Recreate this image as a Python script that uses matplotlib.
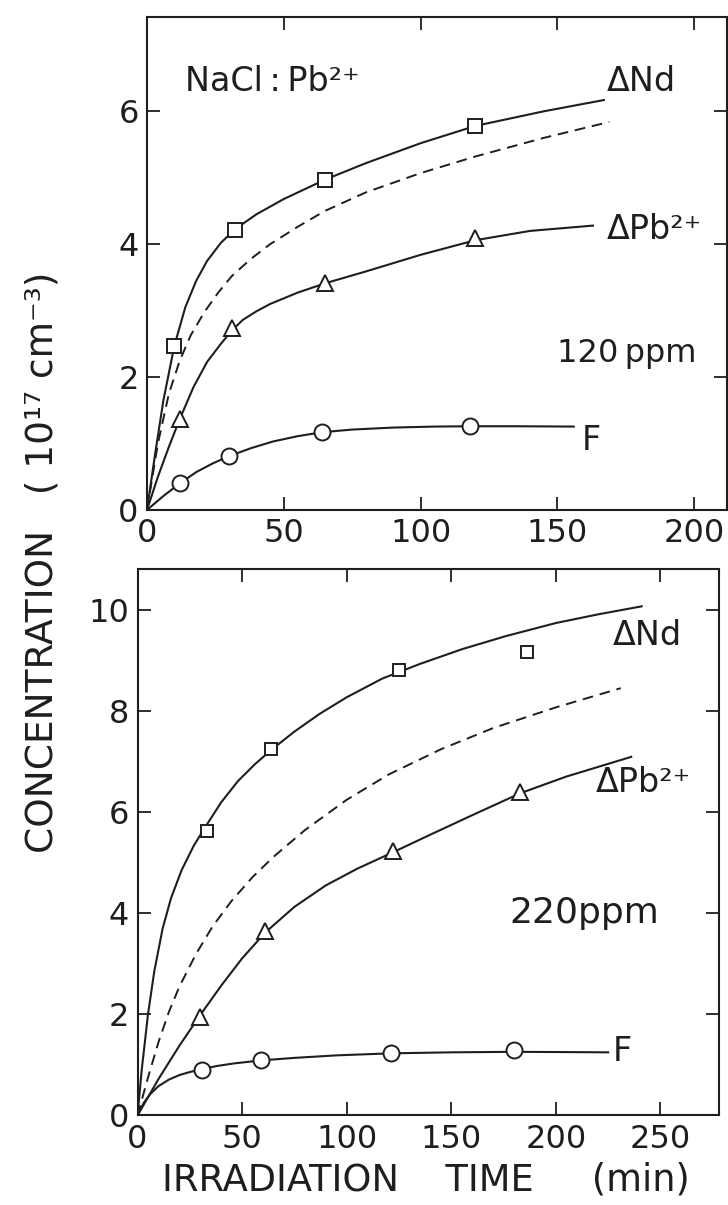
import matplotlib.pyplot as plt

plt.rcParams['font.family'] = ['DejaVu Sans']
plt.rcParams['mathtext.default'] = 'regular'

INK = '#1e1e1e'

# ---- 120 ppm sample ----
# measured points
t_nd_a = [10, 32, 65, 120]
nd_a = [2.47, 4.22, 4.97, 5.78]
t_pb_a = [12, 31, 65, 120]
pb_a = [1.37, 2.74, 3.41, 4.09]
t_f_a = [12, 30, 64, 118]
f_a = [0.40, 0.81, 1.18, 1.26]

# hand-drawn curves
ct_nd_a = [0, 3, 6, 10, 14, 18, 22, 27, 32, 40, 50, 65, 80, 100, 120, 145, 167]
cv_nd_a = [0, 0.85, 1.65, 2.47, 3.05, 3.45, 3.75, 4.02, 4.22, 4.45, 4.68, 4.97, 5.22,
           5.52, 5.78, 6.00, 6.17]
ct_dash_a = [0, 4, 8, 12, 16, 21, 26, 31, 38, 45, 55, 65, 80, 100, 120, 145, 169]
cv_dash_a = [0, 1.00, 1.75, 2.25, 2.63, 2.98, 3.27, 3.52, 3.78, 4.00, 4.26, 4.50, 4.78,
             5.07, 5.32, 5.60, 5.84]
ct_pb_a = [0, 4, 8, 12, 17, 22, 27, 31, 35, 40, 45, 55, 65, 80, 100, 120, 140, 163]
cv_pb_a = [0, 0.50, 0.95, 1.37, 1.85, 2.23, 2.50, 2.70, 2.86, 2.99, 3.10, 3.27, 3.41,
           3.59, 3.84, 4.06, 4.20, 4.28]
ct_f_a = [0, 6, 12, 18, 24, 30, 38, 46, 55, 64, 75, 90, 105, 118, 135, 156]
cv_f_a = [0, 0.21, 0.40, 0.57, 0.70, 0.81, 0.93, 1.03, 1.11, 1.17, 1.21, 1.24, 1.255,
          1.26, 1.26, 1.255]

# ---- 220 ppm sample ----
t_nd_b = [33, 64, 125, 186]
nd_b = [5.64, 7.26, 8.81, 9.17]
t_pb_b = [30, 61, 122, 183]
pb_b = [1.95, 3.65, 5.23, 6.41]
t_f_b = [31, 59, 121, 180]
f_b = [0.91, 1.10, 1.24, 1.30]

ct_nd_b = [0, 2, 5, 8, 12, 16, 21, 27, 33, 40, 48, 56, 64, 75, 87, 100, 117, 135, 155,
           176, 200, 220, 241]
cv_nd_b = [0, 0.90, 2.00, 2.85, 3.70, 4.30, 4.85, 5.35, 5.75, 6.20, 6.62, 6.95, 7.24,
           7.60, 7.95, 8.28, 8.65, 8.94, 9.23, 9.49, 9.75, 9.92, 10.08]
ct_dash_b = [0, 5, 10, 15, 20, 28, 36, 45, 55, 65, 80, 100, 120, 145, 170, 200, 231]
cv_dash_b = [0, 0.75, 1.45, 2.05, 2.55, 3.20, 3.75, 4.25, 4.72, 5.12, 5.65, 6.25, 6.75,
             7.25, 7.67, 8.08, 8.46]
ct_pb_b = [0, 5, 10, 15, 20, 25, 30, 40, 50, 61, 75, 90, 105, 122, 140, 160, 183, 205, 236]
cv_pb_b = [0, 0.36, 0.72, 1.05, 1.38, 1.685, 1.99, 2.57, 3.11, 3.62, 4.13, 4.555, 4.885,
           5.208, 5.56, 5.945, 6.38, 6.71, 7.10]
ct_f_b = [0, 3, 6, 10, 15, 20, 25, 31, 38, 46, 59, 75, 95, 121, 150, 180, 205, 225]
cv_f_b = [0, 0.25, 0.42, 0.58, 0.71, 0.80, 0.86, 0.92, 0.98, 1.03, 1.09, 1.14, 1.19,
          1.23, 1.25, 1.26, 1.255, 1.25]

x_ticks_a = [0, 50, 100, 150, 200]
y_ticks_a = [0, 2, 4, 6]
x_ticks_b = [0, 50, 100, 150, 200, 250]
y_ticks_b = [0, 2, 4, 6, 8, 10]


def style_axes(ax, xt, yt):
    ax.set_xticks(xt)
    ax.set_yticks(yt)
    ax.tick_params(direction='in', length=9.5, width=1.3, top=True, right=True,
                   labelsize=23, pad=6, colors=INK)
    for s in ax.spines.values():
        s.set_linewidth(1.5)
        s.set_color(INK)


def draw_panel(ax, pts, curves, dashed):
    for (ct, cv) in curves:
        ax.plot(ct, cv, color=INK, lw=1.5, solid_joinstyle='round', zorder=2)
    ax.plot(dashed[0], dashed[1], color=INK, lw=1.4, dashes=(5.5, 3.5), zorder=2)
    for (t, v, m, ms) in pts:
        ax.plot(t, v, ls='none', marker=m, ms=ms, mfc='white', mec=INK, mew=1.4, zorder=3)


fig = plt.figure(figsize=(7.28, 12.05), dpi=100)

ax1 = fig.add_axes([0.2019, 0.5768, 0.7967, 0.4091])
draw_panel(ax1,
           [(t_nd_a, nd_a, 's', 9.5), (t_pb_a, pb_a, '^', 12), (t_f_a, f_a, 'o', 11.5)],
           [(ct_nd_a, cv_nd_a), (ct_pb_a, cv_pb_a), (ct_f_a, cv_f_a)],
           (ct_dash_a, cv_dash_a))
ax1.set_xlim(0, 212)
ax1.set_ylim(0, 7.42)
style_axes(ax1, x_ticks_a, y_ticks_a)
ax1.text(14, 6.45, 'NaCl\u2009:\u2009Pb²⁺', fontsize=24, va='center', color=INK)
ax1.text(168, 6.45, 'ΔNd', fontsize=24, va='center', color=INK)
ax1.text(168, 4.22, 'ΔPb²⁺', fontsize=24, va='center', color=INK)
ax1.text(150, 2.35, '120\u2009ppm', fontsize=23, va='center', color=INK)
ax1.text(159, 1.05, 'F', fontsize=24, va='center', color=INK)

ax2 = fig.add_axes([0.1889, 0.0743, 0.7988, 0.4531])
draw_panel(ax2,
           [(t_nd_b, nd_b, 's', 8.5), (t_pb_b, pb_b, '^', 12), (t_f_b, f_b, 'o', 11.5)],
           [(ct_nd_b, cv_nd_b), (ct_pb_b, cv_pb_b), (ct_f_b, cv_f_b)],
           (ct_dash_b, cv_dash_b))
ax2.set_xlim(0, 278)
ax2.set_ylim(0, 10.81)
style_axes(ax2, x_ticks_b, y_ticks_b)
ax2.text(227, 9.5, 'ΔNd', fontsize=24, va='center', color=INK)
ax2.text(219, 6.6, 'ΔPb²⁺', fontsize=24, va='center', color=INK)
ax2.text(178, 4.0, '220ppm', fontsize=26, va='center', color=INK)
ax2.text(227, 1.26, 'F', fontsize=24, va='center', color=INK)

fig.text(0.058, 0.5336, 'CONCENTRATION   ( 10¹⁷ cm⁻³)', rotation=90,
         fontsize=27, ha='center', va='center', color=INK)
fig.text(0.585, 0.021, 'IRRADIATION    TIME     (min)', fontsize=26.5,
         ha='center', va='center', color=INK)

fig.savefig('out.png', dpi=100)
